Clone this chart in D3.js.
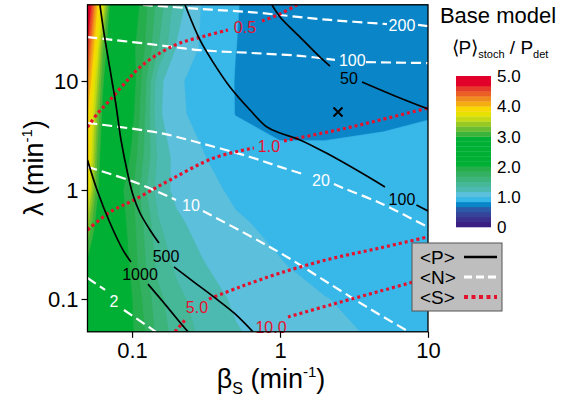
<!DOCTYPE html>
<html lang="en">
<head>
<meta charset="utf-8">
<title>Base model</title>
<script src="https://cdn.jsdelivr.net/npm/d3@7"></script>
<style>
  body { margin: 0; background: #fff; }
  svg text { font-family: "Liberation Sans", Arial, sans-serif; }
</style>
</head>
<body>
<script>
// <P>stoch / Pdet on a coarse grid (rows: lambda from top)
var betaGrid   = [0.05, 0.054, 0.058, 0.063, 0.071, 0.083, 0.1, 0.12, 0.15, 0.2, 0.3, 0.5, 1, 2, 5, 10];
var lambdaGrid = [50, 20, 10, 5, 2, 1, 0.5, 0.2, 0.1, 0.05];
var ratioRows = [
  [5.0, 4.5, 4.0, 3.7, 2.95, 2.6, 2.15, 1.9, 1.6, 1.25, 0.98, 0.84, 0.76, 0.74, 0.73, 0.73],
  [4.6, 4.1, 3.75, 3.2, 2.8, 2.4, 2.05, 1.85, 1.5, 1.15, 0.97, 0.835, 0.76, 0.74, 0.74, 0.74],
  [4.3, 3.85, 3.5, 3.05, 2.7, 2.3, 2.1, 1.75, 1.22, 1.02, 0.95, 0.828, 0.77, 0.75, 0.75, 0.76],
  [4.0, 3.7, 3.3, 2.95, 2.6, 2.25, 2.05, 1.7, 1.2, 1.03, 0.95, 0.83, 0.79, 0.79, 0.80, 0.815],
  [3.95, 3.55, 3.15, 2.85, 2.5, 2.2, 1.95, 1.65, 1.3, 1.1, 1.01, 0.9, 0.86, 0.86, 0.88, 0.94],
  [3.85, 3.4, 3.05, 2.8, 2.45, 2.05, 1.85, 1.55, 1.25, 1.12, 1.05, 0.97, 0.93, 0.9, 0.9, 0.92],
  [3.4, 3.1, 2.9, 2.7, 2.4, 2.1, 1.9, 1.65, 1.35, 1.2, 1.1, 1.02, 0.96, 0.92, 0.9, 0.91],
  [2.9, 2.8, 2.7, 2.55, 2.35, 2.15, 1.95, 1.7, 1.45, 1.3, 1.18, 1.08, 1.01, 0.95, 0.92, 0.91],
  [2.7, 2.65, 2.6, 2.5, 2.35, 2.15, 2.0, 1.8, 1.55, 1.38, 1.25, 1.14, 1.06, 1.005, 0.95, 0.93],
  [2.6, 2.55, 2.5, 2.45, 2.3, 2.15, 2.02, 1.85, 1.6, 1.42, 1.3, 1.18, 1.09, 1.03, 0.98, 0.95]
];

// colour levels, one per 1/6 step from 0 to 5
var levels = d3.range(0, 30).map(function(i) { return i / 6; });
var bandColors = [
  "#3a1e82", "#3a2f8c", "#35449a", "#2a5aa8", "#0a86c8", "#38b7e9",
  "#5cbfdc", "#4dbab2", "#46b797", "#3db47c", "#33b062", "#27ae4c",
  "#00b035", "#00b035", "#00b035", "#00b035", "#00b035", "#00b035",
  "#3cb33a", "#6abc30", "#98c922", "#c4da14", "#e6e100", "#f8d800",
  "#f4ae12", "#f08c1f", "#ec5f24", "#e63a2a", "#e2002a", "#e2002a"
];
var cbTicks = [0, 1, 2, 3, 4, 5];
var cbTickLabels = ["0", "1.0", "2.0", "3.0", "4.0", "5.0"];

var xMajor = [0.1, 1, 10];
var xMajorLabels = ["0.1", "1", "10"];
var xMinor = [0.05, 0.06, 0.07, 0.08, 0.09, 0.2, 0.3, 0.4, 0.5, 0.6, 0.7, 0.8, 0.9, 2, 3, 4, 5, 6, 7, 8, 9];
var yMajor = [0.1, 1, 10];
var yMajorLabels = ["0.1", "1", "10"];
var yMinor = [0.05, 0.06, 0.07, 0.08, 0.09, 0.2, 0.3, 0.4, 0.5, 0.6, 0.7, 0.8, 0.9, 2, 3, 4, 5, 6, 7, 8, 9, 20, 30, 40, 50];

// contour lines [beta, lambda], split where the label sits
var pLines = [
  {label: "50", at: [2.924, 10.7], segs: [
    [[0.882, 50], [1.0, 38.7], [1.365, 25.3], [1.952, 15.6], [2.177, 13.7]],
    [[3.582, 9.79], [5.984, 7.29], [10, 5.54]]]},
  {label: "100", at: [6.67, 0.827], segs: [
    [[0.228, 50], [0.2877, 23.8], [0.3524, 14.9], [0.459, 8.81], [0.6266, 5.42], [0.8162, 3.78], [1.0, 3.33], [1.365, 2.88], [2.177, 2.09], [3.472, 1.46], [5.12, 1.065]],
    [[8.35, 0.729], [10, 0.641]]]},
  {label: "500", at: [0.1696, 0.248], segs: [
    [[0.0607, 50], [0.0646, 27.6], [0.0732, 10], [0.0779, 6.02], [0.0842, 2.88], [0.0939, 1.373], [0.1015, 0.9], [0.1132, 0.615], [0.1322, 0.43], [0.1521, 0.326]],
    [[0.1921, 0.197], [0.2622, 0.143], [0.358, 0.104], [0.4886, 0.0744], [0.656, 0.05]]]},
  {label: "1000", at: [0.1132, 0.1696], segs: [
    [[0.05, 1.88], [0.058, 1.0], [0.071, 0.498], [0.0869, 0.281], [0.0984, 0.218]],
    [[0.1282, 0.137], [0.1644, 0.0919], [0.2044, 0.0642], [0.2388, 0.05]]]}
];
var nLines = [
  {label: "200", at: [6.67, 32.7], segs: [
    [[0.1186, 50], [0.2877, 45.8], [0.6266, 42.9], [1.0, 40.3], [2.177, 36.3], [5.28, 33.3]],
    [[8.56, 32.7], [10, 31.9]]]},
  {label: "100", at: [3.078, 15.6], segs: [
    [[0.05, 25.3], [0.1322, 21.8], [0.2877, 19.2], [0.6266, 18.1], [1.365, 17.0], [2.35, 15.6]],
    [[3.81, 14.9], [10, 14.6]]]},
  {label: "20", at: [1.891, 1.235], segs: [
    [[0.05, 4.12], [0.1545, 3.33], [0.2877, 2.70], [0.6266, 2.01], [1.0, 1.63], [1.497, 1.373]],
    [[2.315, 1.135], [2.663, 1.043], [4.74, 0.760], [8.831, 0.498], [10, 0.458]]]},
  {label: "10", at: [0.2502, 0.729], segs: [
    [[0.05, 1.63], [0.108, 1.159], [0.198, 0.81]],
    [[0.3016, 0.642], [0.6266, 0.378], [1.115, 0.243], [2.177, 0.137], [4.056, 0.081], [7.43, 0.05]]]},
  {label: "2", at: [0.0755, 0.096], segs: [
    [[0.05, 0.156], [0.0657, 0.121]],
    [[0.0882, 0.0793], [0.145, 0.05]]]}
];
var sLines = [
  {label: "0.5", at: [0.5797, 31.3], segs: [
    [[0.05, 3.78], [0.0589, 5.09], [0.071, 6.69], [0.0896, 9.59], [0.1132, 13.4], [0.1545, 18.1], [0.2109, 22.3], [0.3111, 25.9], [0.4447, 29.4]],
    [[0.755, 35.5], [1.0, 41.2], [1.303, 50]]]},
  {label: "1.0", at: [0.842, 2.53], segs: [
    [[0.05, 0.43], [0.071, 0.628], [0.1031, 0.81], [0.1805, 1.235], [0.358, 1.97], [0.6668, 2.43]],
    [[1.063, 2.82], [2.836, 3.71], [4.74, 4.39], [10, 5.65]]]},
  {label: "5.0", at: [0.2747, 0.0845], segs: [
    [[0.1951, 0.05], [0.228, 0.0642]],
    [[0.331, 0.1], [0.5364, 0.129], [1.0, 0.173], [2.177, 0.233], [4.74, 0.294], [10, 0.371]]]},
  {label: "10.0", at: [0.869, 0.0553], segs: [
    [[1.132, 0.0684], [2.177, 0.0881], [4.74, 0.118], [10, 0.156]]]}
];
var marker = [2.465, 5.19];

var W = 568, H = 400,
    plot = {left: 87.5, right: 428, top: 4.8, bottom: 331.8},
    red = "#e5122e";

var svg = d3.select("body").append("svg")
    .attr("width", W)
    .attr("height", H);

var x = d3.scaleLog().domain([0.05, 10]).range([plot.left, plot.right]);
var y = d3.scaleLog().domain([0.05, 50]).range([plot.bottom, plot.top]);

svg.append("clipPath").attr("id", "clip")
  .append("rect")
    .attr("x", plot.left).attr("y", plot.top)
    .attr("width", plot.right - plot.left).attr("height", plot.bottom - plot.top);

// filled contours: grid index -> log position -> pixel
var nx = betaGrid.length, ny = lambdaGrid.length;
var values = [].concat.apply([], ratioRows);
var bands = d3.contours().size([nx, ny]).thresholds(levels)(values);

function gridPos(arr, c) {
  var f = Math.max(0, Math.min(arr.length - 1, c - 0.5));
  var i = Math.min(Math.floor(f), arr.length - 2), t = f - i;
  return Math.pow(10, Math.log10(arr[i]) * (1 - t) + Math.log10(arr[i + 1]) * t);
}
var toPlot = d3.geoTransform({
  point: function(cx, cy) {
    this.stream.point(x(gridPos(betaGrid, cx)), y(gridPos(lambdaGrid, cy)));
  }
});

var map = svg.append("g").attr("clip-path", "url(#clip)");

map.selectAll("path.band")
  .data(bands)
  .enter().append("path")
    .attr("class", "band")
    .attr("d", d3.geoPath(toPlot))
    .attr("fill", function(d, i) { return bandColors[i]; })
    .attr("stroke", function(d, i) { return bandColors[i]; })
    .attr("stroke-width", 0.6);

var line = d3.line()
    .x(function(d) { return x(d[0]); })
    .y(function(d) { return y(d[1]); })
    .curve(d3.curveCatmullRom.alpha(0.5));

function drawSet(set, stroke, width, dash, labelColor) {
  set.forEach(function(c) {
    map.selectAll(null)
      .data(c.segs)
      .enter().append("path")
        .attr("d", line)
        .attr("fill", "none")
        .attr("stroke", stroke)
        .attr("stroke-width", width)
        .attr("stroke-dasharray", dash);
    svg.append("text")
      .attr("x", x(c.at[0]))
      .attr("y", y(c.at[1]))
      .attr("dy", "0.36em")
      .attr("text-anchor", "middle")
      .attr("font-size", "16px")
      .attr("fill", labelColor)
      .text(c.label);
  });
}
drawSet(nLines, "#fff", 2.2, "10,5", "#fff");
drawSet(sLines, red, 3.2, "3,3", red);
drawSet(pLines, "#000", 1.7, null, "#000");

svg.append("path")
  .attr("transform", "translate(" + x(marker[0]) + "," + y(marker[1]) + ")")
  .attr("d", "M-4.5,-4.5L4.5,4.5M-4.5,4.5L4.5,-4.5")
  .attr("stroke", "#000")
  .attr("stroke-width", 2);

// frame and axes
svg.append("rect")
  .attr("x", plot.left).attr("y", plot.top)
  .attr("width", plot.right - plot.left).attr("height", plot.bottom - plot.top)
  .attr("fill", "none").attr("stroke", "#000").attr("stroke-width", 1.3);

var gx = svg.append("g").attr("transform", "translate(0," + plot.bottom + ")");
gx.call(d3.axisBottom(x).tickValues(xMinor).tickSize(3.5).tickFormat(""));
gx.call(d3.axisBottom(x).tickValues(xMajor).tickSize(6)
    .tickFormat(function(d, i) { return xMajorLabels[i]; }));
var gy = svg.append("g").attr("transform", "translate(" + plot.left + ",0)");
gy.call(d3.axisLeft(y).tickValues(yMinor).tickSize(3.5).tickFormat(""));
gy.call(d3.axisLeft(y).tickValues(yMajor).tickSize(6)
    .tickFormat(function(d, i) { return yMajorLabels[i]; }));
svg.selectAll(".domain").remove();
svg.selectAll(".tick line").attr("stroke-width", 1.2);
gx.selectAll(".tick text").attr("font-size", "22px").attr("font-family", null)
  .attr("y", 11).attr("dy", "0.71em");
gy.selectAll(".tick text").attr("font-size", "22px").attr("font-family", null).attr("x", -9);

var xt = svg.append("text")
  .attr("x", 271).attr("y", 388)
  .attr("text-anchor", "middle")
  .attr("font-size", "27px");
xt.append("tspan").text("\u03b2");
xt.append("tspan").attr("font-size", "16px").attr("dy", 6).text("S");
xt.append("tspan").attr("dy", -6).text(" (min");
xt.append("tspan").attr("font-size", "15px").attr("dy", -11).text("-1");
xt.append("tspan").attr("dy", 11).text(")");

var yt = svg.append("text")
  .attr("transform", "translate(43,168) rotate(-90)")
  .attr("text-anchor", "middle")
  .attr("font-size", "27px");
yt.append("tspan").text("\u03bb (min");
yt.append("tspan").attr("font-size", "15px").attr("dy", -11).text("-1");
yt.append("tspan").attr("dy", 11).text(")");

// colour scale
svg.append("text")
  .attr("x", 498).attr("y", 23)
  .attr("text-anchor", "middle")
  .attr("font-size", "22px")
  .text("Base model");
var st = svg.append("text")
  .attr("x", 500).attr("y", 54)
  .attr("text-anchor", "middle")
  .attr("font-size", "19px");
st.append("tspan").text("\u27e8P\u27e9");
st.append("tspan").attr("font-size", "11px").attr("dy", 4).text("stoch");
st.append("tspan").attr("dy", -4).text(" / P");
st.append("tspan").attr("font-size", "11px").attr("dy", 4).text("det");

var cb = d3.scaleLinear().domain([0, 5]).range([227, 76]);
svg.append("g").selectAll("rect")
  .data(levels)
  .enter().append("rect")
    .attr("x", 456)
    .attr("width", 35)
    .attr("y", function(d) { return cb(d + 1 / 6); })
    .attr("height", function(d) { return cb(d) - cb(d + 1 / 6) + 0.3; })
    .attr("fill", function(d, i) { return bandColors[i]; });
svg.append("g").selectAll("text")
  .data(cbTicks)
  .enter().append("text")
    .attr("x", 497)
    .attr("y", function(d) { return cb(d); })
    .attr("dy", "0.36em")
    .attr("font-size", "17px")
    .text(function(d, i) { return cbTickLabels[i]; });

// legend
var lg = svg.append("g").attr("transform", "translate(412,243)");
lg.append("rect")
  .attr("width", 90).attr("height", 68)
  .attr("fill", "#bebebe").attr("stroke", "#555").attr("stroke-width", 1);
var legendItems = [
  {name: "<P>", stroke: "#000", width: 2.4, dash: null},
  {name: "<N>", stroke: "#fff", width: 3, dash: "8,4"},
  {name: "<S>", stroke: red, width: 4, dash: "4,3.5"}
];
legendItems.forEach(function(d, i) {
  lg.append("text")
    .attr("x", 8).attr("y", 14 + i * 20)
    .attr("dy", "0.36em")
    .attr("font-size", "19px")
    .text(d.name);
  lg.append("line")
    .attr("x1", 52).attr("x2", 85)
    .attr("y1", 14 + i * 20).attr("y2", 14 + i * 20)
    .attr("stroke", d.stroke)
    .attr("stroke-width", d.width)
    .attr("stroke-dasharray", d.dash);
});
</script>
</body>
</html>
